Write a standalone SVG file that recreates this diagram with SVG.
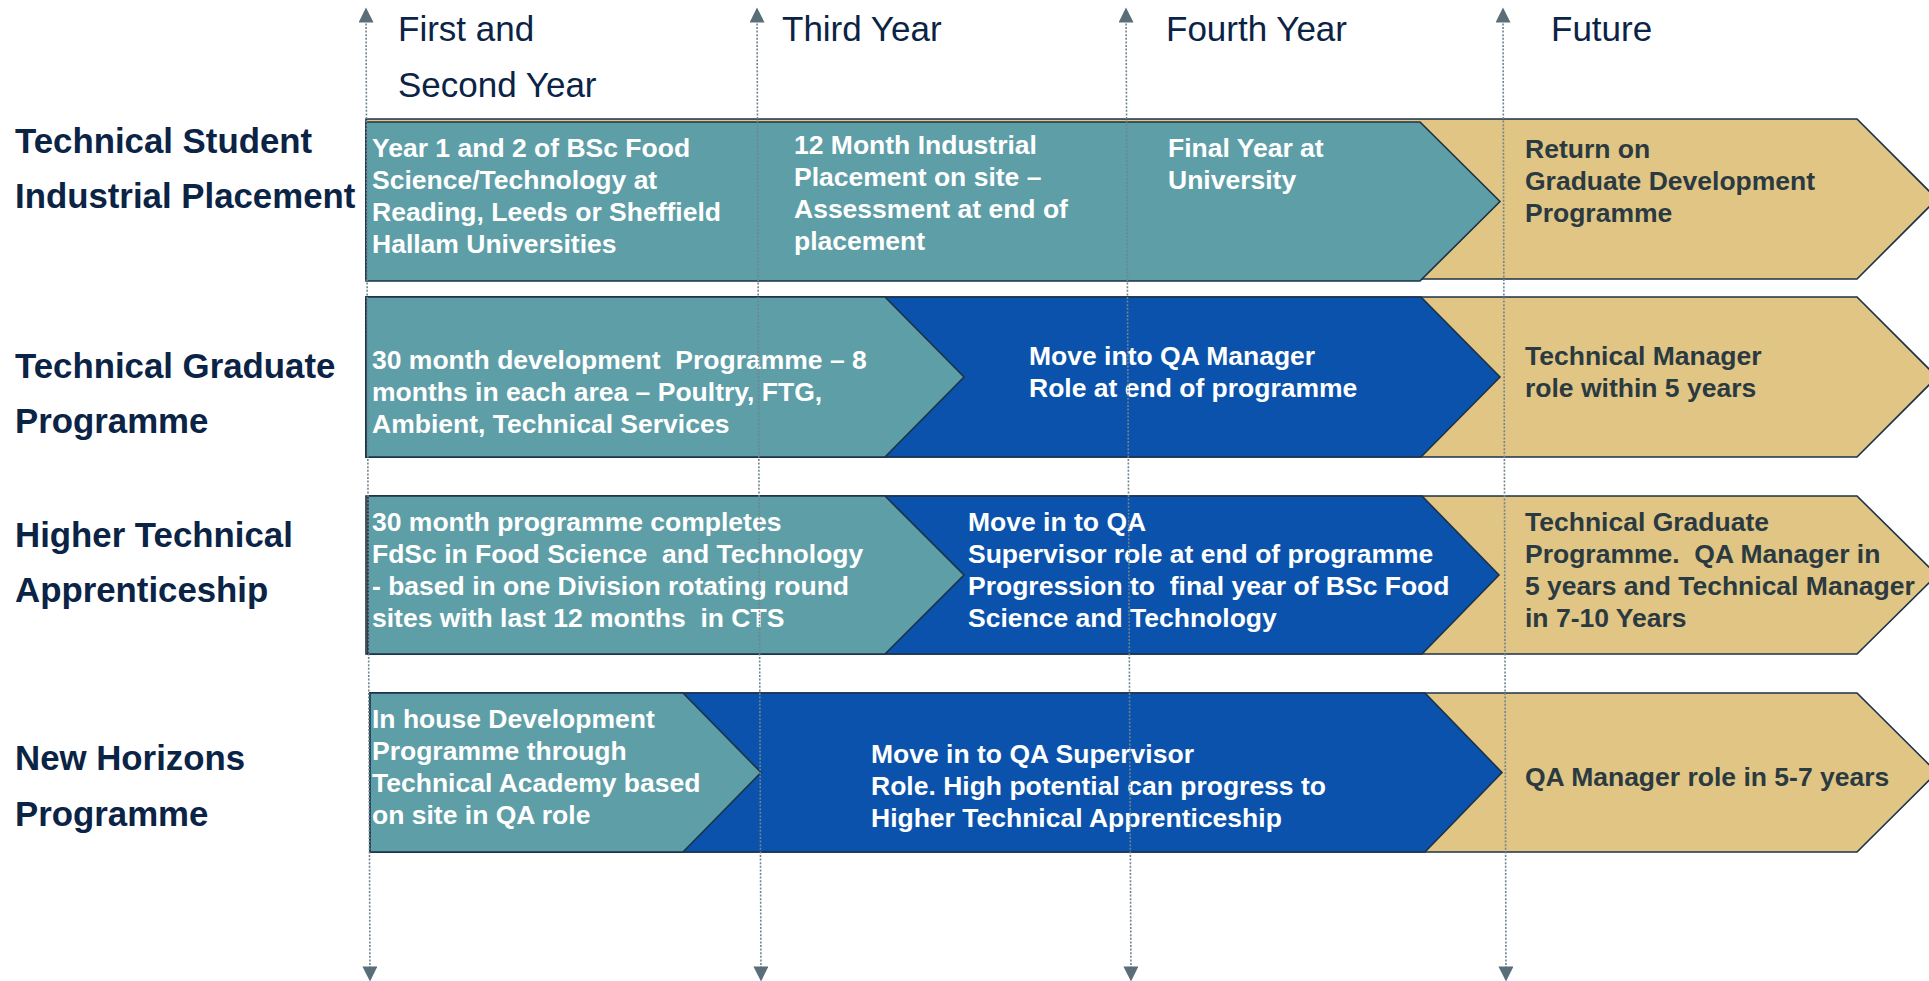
<svg xmlns="http://www.w3.org/2000/svg" width="1929" height="981" viewBox="0 0 1929 981">
  <style>
    .bg { fill: #ffffff; }
    .teal { fill: #5E9EA7; stroke: #1C3248; stroke-width: 1.6; }
    .blue { fill: #0A52AB; stroke: #1C3248; stroke-width: 1.6; }
    .tan { fill: #E0C584; stroke: #1C3248; stroke-width: 1.6; }
    .hdr { font-family: "Liberation Sans", Arial, sans-serif; font-size: 35px; fill: #0B2345; }
    .lbl { font-family: "Liberation Sans", Arial, sans-serif; font-size: 34.8px; font-weight: bold; fill: #0B2345; }
    .wt { font-family: "Liberation Sans", Arial, sans-serif; font-size: 26.5px; font-weight: bold; fill: #ffffff; }
    .dk { font-family: "Liberation Sans", Arial, sans-serif; font-size: 26.5px; font-weight: bold; fill: #2B3A40; }
    .guide { stroke: #71848F; stroke-width: 1.6; stroke-dasharray: 2 1.6; fill: none; }
  </style>
  <defs>
    <marker id="arr" viewBox="0 0 10 10" refX="9" refY="5" markerUnits="userSpaceOnUse" markerWidth="16" markerHeight="15" orient="auto-start-reverse">
      <path d="M0,0 L10,5 L0,10 Z" fill="#5A6E7A"/>
    </marker>
  </defs>
  <rect class="bg" x="0" y="0" width="1929" height="981"/>

  <g id="headers">
    <text class="hdr" x="398" y="41">First and</text>
    <text class="hdr" x="398" y="97">Second Year</text>
    <text class="hdr" x="782" y="41">Third Year</text>
    <text class="hdr" x="1166" y="41">Fourth Year</text>
    <text class="hdr" x="1551" y="41">Future</text>
  </g>

  <g id="row-labels">
    <text class="lbl" x="15" y="153">Technical Student</text>
    <text class="lbl" x="15" y="208">Industrial Placement</text>
    <text class="lbl" x="15" y="378">Technical Graduate</text>
    <text class="lbl" x="15" y="433">Programme</text>
    <text class="lbl" x="15" y="547">Higher Technical</text>
    <text class="lbl" x="15" y="602">Apprenticeship</text>
    <text class="lbl" x="15" y="770">New Horizons</text>
    <text class="lbl" x="15" y="826">Programme</text>
  </g>

  <!-- Row 1 -->
  <g id="row1-future">
    <polygon class="tan" points="366,119 1857,119 1937,199 1857,279 366,279"/>
    <text class="dk" x="1525" y="158">Return on</text>
    <text class="dk" x="1525" y="190">Graduate Development</text>
    <text class="dk" x="1525" y="222">Programme</text>
  </g>
  <g id="row1-university">
    <polygon class="teal" points="366,122 1420,122 1500,201.5 1420,281 366,281"/>
    <text class="wt" x="372" y="157">Year 1 and 2 of BSc Food</text>
    <text class="wt" x="372" y="189">Science/Technology at</text>
    <text class="wt" x="372" y="221">Reading, Leeds or Sheffield</text>
    <text class="wt" x="372" y="253">Hallam Universities</text>
    <text class="wt" x="794" y="154">12 Month Industrial</text>
    <text class="wt" x="794" y="186">Placement on site –</text>
    <text class="wt" x="794" y="218">Assessment at end of</text>
    <text class="wt" x="794" y="250">placement</text>
    <text class="wt" x="1168" y="157">Final Year at</text>
    <text class="wt" x="1168" y="189">University</text>
  </g>

  <!-- Row 2 -->
  <g id="row2-future">
    <polygon class="tan" points="366,297 1857,297 1937,377 1857,457 366,457"/>
    <text class="dk" x="1525" y="365">Technical Manager</text>
    <text class="dk" x="1525" y="397">role within 5 years</text>
  </g>
  <g id="row2-qa">
    <polygon class="blue" points="366,297 1421,297 1500,377 1421,457 366,457"/>
    <text class="wt" x="1029" y="365">Move into QA Manager</text>
    <text class="wt" x="1029" y="397">Role at end of programme</text>
  </g>
  <g id="row2-programme">
    <polygon class="teal" points="366,297 885,297 964,377 885,457 366,457"/>
    <text class="wt" x="372" y="369" xml:space="preserve">30 month development  Programme – 8</text>
    <text class="wt" x="372" y="401">months in each area – Poultry, FTG,</text>
    <text class="wt" x="372" y="433">Ambient, Technical Services</text>
  </g>

  <!-- Row 3 -->
  <g id="row3-future">
    <polygon class="tan" points="366,496 1857,496 1937,575 1857,654 366,654"/>
    <text class="dk" x="1525" y="531">Technical Graduate</text>
    <text class="dk" x="1525" y="563" xml:space="preserve">Programme.  QA Manager in</text>
    <text class="dk" x="1525" y="595">5 years and Technical Manager</text>
    <text class="dk" x="1525" y="627">in 7-10 Years</text>
  </g>
  <g id="row3-qa">
    <polygon class="blue" points="368,496 1422,496 1499,575 1422,654 368,654"/>
    <text class="wt" x="968" y="531">Move in to QA</text>
    <text class="wt" x="968" y="563">Supervisor role at end of programme</text>
    <text class="wt" x="968" y="595" xml:space="preserve">Progression to  final year of BSc Food</text>
    <text class="wt" x="968" y="627">Science and Technology</text>
  </g>
  <g id="row3-programme">
    <polygon class="teal" points="368,496 885,496 964,575 885,654 368,654"/>
    <text class="wt" x="372" y="531">30 month programme completes</text>
    <text class="wt" x="372" y="563" xml:space="preserve">FdSc in Food Science  and Technology</text>
    <text class="wt" x="372" y="595">- based in one Division rotating round</text>
    <text class="wt" x="372" y="627" xml:space="preserve">sites with last 12 months  in CTS</text>
  </g>

  <!-- Row 4 -->
  <g id="row4-future">
    <polygon class="tan" points="370,693 1857,693 1937,772.5 1857,852 370,852"/>
    <text class="dk" x="1525" y="786">QA Manager role in 5-7 years</text>
  </g>
  <g id="row4-qa">
    <polygon class="blue" points="370,693 1425,693 1502,772.5 1425,852 370,852"/>
    <text class="wt" x="871" y="763">Move in to QA Supervisor</text>
    <text class="wt" x="871" y="795">Role. High potential can progress to</text>
    <text class="wt" x="871" y="827">Higher Technical Apprenticeship</text>
  </g>
  <g id="row4-programme">
    <polygon class="teal" points="370,693 683,693 761,772.5 683,852 370,852"/>
    <text class="wt" x="372" y="728">In house Development</text>
    <text class="wt" x="372" y="760">Programme through</text>
    <text class="wt" x="372" y="792">Technical Academy based</text>
    <text class="wt" x="372" y="824">on site in QA role</text>
  </g>

  <g id="connectors">
    <line class="guide" x1="366" y1="9" x2="370" y2="980" marker-start="url(#arr)" marker-end="url(#arr)"/>
    <line class="guide" x1="757" y1="9" x2="761" y2="980" marker-start="url(#arr)" marker-end="url(#arr)"/>
    <line class="guide" x1="1126" y1="9" x2="1131" y2="980" marker-start="url(#arr)" marker-end="url(#arr)"/>
    <line class="guide" x1="1503" y1="9" x2="1506" y2="980" marker-start="url(#arr)" marker-end="url(#arr)"/>
  </g>
</svg>
